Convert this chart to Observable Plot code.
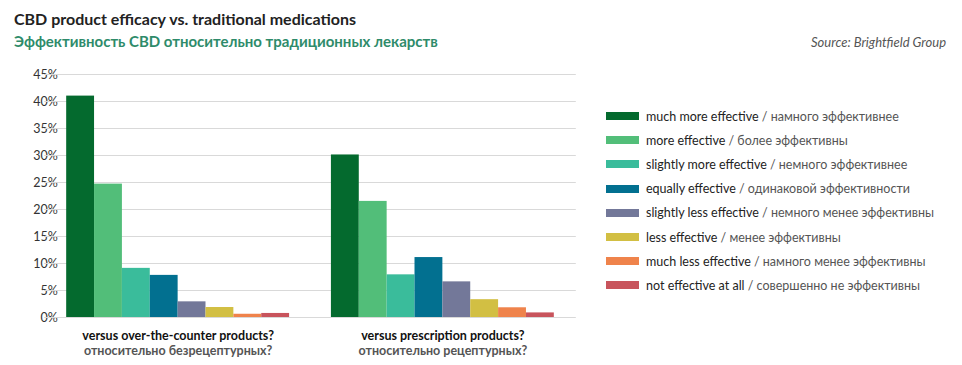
<!DOCTYPE html>
<html>
<head>
<meta charset="utf-8">
<script src="https://cdn.jsdelivr.net/npm/d3@7"></script>
<script src="https://cdn.jsdelivr.net/npm/@observablehq/plot@0.6"></script>
<style>
  body { margin: 0; background: #fff; font-family: Lato, "Noto Sans", sans-serif; }
  #wrap { position: relative; width: 962px; height: 365px; overflow: hidden; }
  #title { position: absolute; left: 14px; top: 9px; font-size: 16px; font-weight: 700; color: #222; white-space: nowrap; }
  #subtitle { position: absolute; left: 14px; top: 32px; font-size: 15px; font-weight: 700; color: #2e8b6a; white-space: nowrap; }
  #source { position: absolute; right: 16px; top: 34px; font-size: 13px; font-style: italic; color: #555; white-space: nowrap; }
  #chart { position: absolute; left: 0; top: 60px; }
  #legend { position: absolute; left: 606px; top: 104px; }
  .row { display: flex; align-items: center; height: 24.2px; font-size: 12.5px; white-space: nowrap; }
  .sw { width: 33px; height: 8px; margin-right: 7px; }
  .en { color: #222; }
  .ru { color: #555; }
</style>
</head>
<body>
<div id="wrap">
  <div id="title">CBD product efficacy vs. traditional medications</div>
  <div id="subtitle">Эффективность CBD относительно традиционных лекарств</div>
  <div id="source">Source: Brightfield Group</div>
  <div id="chart"></div>
  <div id="legend"></div>
</div>
<script>
const groups = ["versus over-the-counter products?", "versus prescription products?"];
const groupsRu = ["относительно безрецептурных?", "относительно рецептурных?"];
const seriesEn = ["much more effective", "more effective", "slightly more effective", "equally effective", "slightly less effective", "less effective", "much less effective", "not effective at all"];
const seriesRu = ["намного эффективнее", "более эффективны", "немного эффективнее", "одинаковой эффективности", "немного менее эффективны", "менее эффективны", "намного менее эффективны", "совершенно не эффективны"];
const colors = ["#046a2e", "#52be79", "#3abc9b", "#027090", "#737899", "#d2bf43", "#ef834b", "#c8545c"];
const otcValues = [41.0, 24.7, 9.1, 7.8, 2.9, 1.85, 0.6, 0.75];
const rxValues = [30.1, 21.5, 7.9, 11.1, 6.6, 3.3, 1.8, 0.85];
const yTicks = [0, 5, 10, 15, 20, 25, 30, 35, 40, 45];

const valuesByGroup = [otcValues, rxValues];
const data = groups.flatMap((g, gi) => seriesEn.map((s, i) => ({group: g, series: s, value: valuesByGroup[gi][i]})));
const labels = groups.map((g, i) => ({group: g, en: g, ru: groupsRu[i]}));

const chart = Plot.plot({
  width: 590,
  height: 302,
  marginTop: 14,
  marginLeft: 45,
  marginRight: 15,
  marginBottom: 45,
  style: {fontFamily: "Lato, 'Noto Sans', sans-serif", fontSize: "12.5px", color: "#333", background: "transparent"},
  fx: {domain: groups, paddingInner: 0.158, paddingOuter: 0.08, round: false, axis: null, label: null},
  x: {domain: seriesEn, padding: 0, round: false, axis: null},
  y: {domain: [0, 45], ticks: yTicks, tickFormat: d => d + "%", tickSize: 0, tickPadding: 9, label: null},
  color: {domain: seriesEn, range: colors},
  marks: [
    Plot.ruleY(yTicks, {stroke: "#d9d9d9", strokeWidth: 1, insetLeft: -22, insetRight: -22}),
    Plot.barY(data, {fx: "group", x: "series", y: "value", fill: "series"}),
    Plot.text(labels, {fx: "group", text: "en", frameAnchor: "bottom", dy: 22, fill: "#111", fontWeight: 700, fontSize: 12.5}),
    Plot.text(labels, {fx: "group", text: "ru", frameAnchor: "bottom", dy: 37, fill: "#555", fontWeight: 700, fontSize: 12.5})
  ]
});
document.getElementById("chart").appendChild(chart);

const legend = d3.select("#legend");
seriesEn.forEach((s, i) => {
  const row = legend.append("div").attr("class", "row");
  row.append("div").attr("class", "sw").style("background", colors[i]);
  row.append("span").attr("class", "en").text(s);
  row.append("span").attr("class", "ru").html("&nbsp;/ " + seriesRu[i]);
});
</script>
</body>
</html>
